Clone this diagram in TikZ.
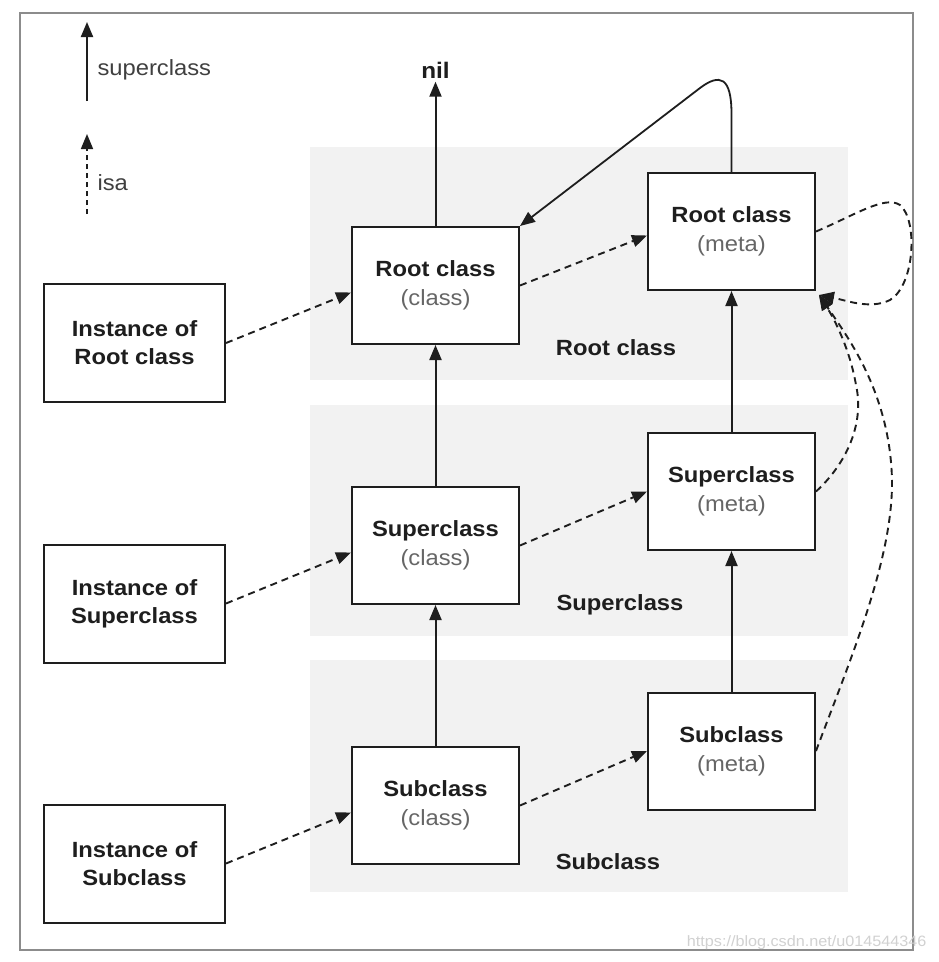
\documentclass[tikz,border=0pt]{standalone}
\usepackage{fontspec}
\setmainfont{Liberation Sans}[FakeStretch=1.08]
\usetikzlibrary{arrows.meta}
\definecolor{band}{HTML}{F2F2F2}
\definecolor{framegray}{HTML}{8C8C8C}
\definecolor{ink}{HTML}{1E1E1E}
\definecolor{subtext}{HTML}{666666}
\begin{document}
\begin{tikzpicture}[x=1pt,y=-1pt,
  box/.style={draw=ink, line width=2pt, fill=white, minimum width=167pt, minimum height=117pt,
    align=center, inner sep=0pt, text=ink, font=\fontsize{22}{29}\selectfont},
  instbox/.style={box, minimum width=181pt, minimum height=118pt, font=\fontsize{22}{28}\selectfont\bfseries},
  bandlabel/.style={text=ink, font=\fontsize{22}{25}\selectfont\bfseries},
  legendtext/.style={text=ink!85, font=\fontsize{22}{25}\selectfont, anchor=west},
  superarrow/.style={draw=ink, line width=2pt, -{Triangle[length=15pt,width=12pt]}},
  isaarrow/.style={draw=ink, line width=1.9pt, dash pattern=on 7pt off 5pt, -{Triangle[length=15pt,width=12pt]}}]
\useasboundingbox (0,0) rectangle (938,962);
\fill[white] (0,0) rectangle (938,962);
% frame
\draw[framegray, line width=2.5pt] (20,13) rectangle (913,950);
% bands
\fill[band] (310,147) rectangle (848,380);
\fill[band] (310,405) rectangle (848,636);
\fill[band] (310,660) rectangle (848,892);
% band labels
\node[bandlabel] (lroot) at (616,348) {Root class};
\node[bandlabel] (lsuper) at (620,605) {Superclass};
\node[bandlabel] (lsub) at (608,862) {Subclass};
% legend
\coordinate (ls0) at (87,101);
\coordinate (ls1) at (87,22);
\draw[superarrow] (ls0) -- (ls1);
\node[legendtext] (lst) at (94,70) {superclass};
\coordinate (li0) at (87,214);
\coordinate (li1) at (87,134);
\draw[isaarrow, line width=1.6pt, dash pattern=on 5pt off 4pt] (li0) -- (li1);
\node[legendtext] (lit) at (94,183) {isa};
% instance boxes
\node[instbox] (ir) at (134.5,343) {Instance of\\Root class};
\node[instbox] (is) at (134.5,603.5) {Instance of\\Superclass};
\node[instbox] (ib) at (134.5,863.5) {Instance of\\Subclass};
% class boxes
\node[box] (cr) at (435.5,285.5) {\textbf{Root class}\\{\color{subtext}(class)}};
\node[box] (cs) at (435.5,545.5) {\textbf{Superclass}\\{\color{subtext}(class)}};
\node[box] (cb) at (435.5,805.5) {\textbf{Subclass}\\{\color{subtext}(class)}};
% meta boxes
\node[box] (mr) at (731.5,231.5) {\textbf{Root class}\\{\color{subtext}(meta)}};
\node[box] (ms) at (731.5,491.5) {\textbf{Superclass}\\{\color{subtext}(meta)}};
\node[box] (mb) at (731.5,751) {\textbf{Subclass}\\{\color{subtext}(meta)}};
% nil
\node[text=ink, font=\fontsize{22.5}{25}\selectfont\bfseries] (nil) at (435.5,70) {nil};
% superclass arrows
\draw[superarrow] (cr.north) -- (nil.south);
\draw[superarrow] (cs.north) -- (cr.south);
\draw[superarrow] (cb.north) -- (cs.south);
\draw[superarrow] (ms.north) -- (mr.south);
\draw[superarrow] (mb.north) -- (ms.south);
\coordinate (looptop) at (700,88);
\draw[superarrow, line width=1.8pt] (mr.north) -- ++(0,-58) .. controls ++(0,-37) and (720,73) .. (looptop) -- (cr.north east);
% isa arrows
\draw[isaarrow] (ir.east) -- ([yshift=-7pt]cr.west);
\draw[isaarrow] (is.east) -- ([yshift=-7pt]cs.west);
\draw[isaarrow] (ib.east) -- ([yshift=-7pt]cb.west);
\draw[isaarrow] (cr.east) -- ([yshift=-4pt]mr.west);
\draw[isaarrow] (cs.east) -- ([yshift=0pt]ms.west);
\draw[isaarrow] (cb.east) -- ([yshift=0pt]mb.west);
% metaclass isa
\coordinate (corner) at (819,295);
\draw[isaarrow] (mr.east) .. controls (855,215) and (885,195) .. (900,205)
   .. controls (918,220) and (915,285) .. (890,300) .. controls (870,310) and (845,300) .. (corner);
\draw[isaarrow] (ms.east) .. controls (845,465) and (865,425) .. (856,385)
   .. controls (850,350) and (835,320) .. (corner);
\draw[isaarrow] (mb.east) .. controls (850,660) and (893,560) .. (892,480)
   .. controls (890,395) and (850,340) .. (corner);
% watermark
\node[text=black!18, font=\fontsize{15}{18}\selectfont, anchor=east] (wm) at (930,943) {https://blog.csdn.net/u014544346};
\end{tikzpicture}
\end{document}
